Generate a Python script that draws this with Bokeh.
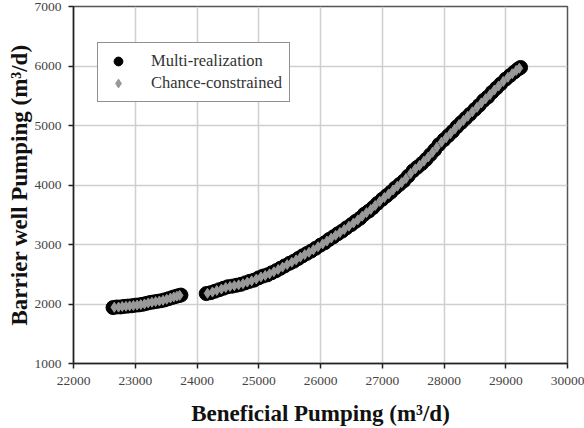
from bokeh.plotting import figure
from bokeh.models import FixedTicker, Legend, LegendItem, ColumnDataSource
from bokeh.embed import file_html
from bokeh.resources import INLINE

# Multi-realization (black circles)
multi_x = [22640, 22700, 22760, 22820, 22880, 22940, 23000, 23060, 23120, 23180,
           23240, 23300, 23360, 23420, 23480, 23540, 23600, 23650, 23700, 23740,
           24150, 24220, 24290, 24360, 24430, 24500, 24570, 24640, 24710, 24780,
           24850, 24920, 25000, 25070, 25140, 25210, 25280, 25350, 25420, 25500,
           25570, 25640, 25710, 25780, 25850, 25920, 26000, 26070, 26140, 26210,
           26280, 26350, 26420, 26500, 26570, 26640, 26710, 26780, 26850, 26920,
           27000, 27070, 27140, 27210, 27280, 27350, 27420, 27500, 27570, 27640,
           27710, 27780, 27850, 27920, 28000, 28070, 28140, 28210, 28280, 28350,
           28420, 28500, 28570, 28640, 28710, 28780, 28850, 28920, 29000, 29070,
           29140, 29200, 29240]
multi_y = [1940, 1950, 1950, 1960, 1965, 1970, 1980, 1985, 1995, 2010,
           2025, 2035, 2045, 2055, 2070, 2090, 2110, 2125, 2140, 2150,
           2175, 2190, 2215, 2240, 2265, 2290, 2300, 2315, 2330, 2355,
           2380, 2400, 2440, 2470, 2490, 2525, 2560, 2600, 2640, 2685,
           2720, 2765, 2810, 2850, 2890, 2935, 2990, 3030, 3085, 3130,
           3180, 3225, 3280, 3335, 3390, 3440, 3510, 3560, 3620, 3690,
           3760, 3820, 3880, 3950, 4010, 4070, 4150, 4240, 4300, 4360,
           4430, 4510, 4590, 4680, 4760, 4830, 4900, 4980, 5050, 5120,
           5190, 5270, 5340, 5420, 5480, 5560, 5630, 5700, 5780, 5840,
           5900, 5950, 5975]

# Chance-constrained (gray diamonds)
cc_x = [22660, 22730, 22790, 22850, 22910, 22970, 23030, 23090, 23150, 23210,
        23270, 23330, 23390, 23450, 23510, 23570, 23625, 23675, 23720,
        24170, 24250, 24320, 24395, 24465, 24535, 24605, 24675, 24745, 24815,
        24885, 24960, 25035, 25105, 25175, 25245, 25315, 25385, 25460, 25535,
        25605, 25675, 25745, 25815, 25885, 25960, 26035, 26105, 26175, 26245,
        26315, 26385, 26460, 26535, 26605, 26675, 26745, 26815, 26885, 26960,
        27035, 27105, 27175, 27245, 27315, 27385, 27460, 27535, 27605, 27675,
        27745, 27815, 27885, 27960, 28035, 28105, 28175, 28245, 28315, 28385,
        28460, 28535, 28605, 28675, 28745, 28815, 28885, 28960, 29035, 29105,
        29170, 29220]
cc_y = [1945, 1948, 1958, 1962, 1968, 1975, 1982, 1990, 2002, 2018,
        2030, 2040, 2050, 2062, 2080, 2100, 2118, 2132, 2145,
        2180, 2202, 2228, 2252, 2278, 2295, 2308, 2322, 2342, 2368,
        2390, 2420, 2455, 2480, 2508, 2542, 2580, 2620, 2662, 2702,
        2742, 2788, 2830, 2870, 2912, 2962, 3010, 3058, 3108, 3155,
        3202, 3252, 3308, 3362, 3415, 3475, 3535, 3590, 3655, 3725,
        3790, 3850, 3915, 3980, 4040, 4110, 4195, 4270, 4330, 4400,
        4470, 4550, 4635, 4720, 4795, 4865, 4940, 5015, 5085, 5155,
        5230, 5305, 5380, 5450, 5520, 5595, 5665, 5740, 5810, 5870,
        5925, 5962]

x_ticks = [22000, 23000, 24000, 25000, 26000, 27000, 28000, 29000, 30000]
y_ticks = [1000, 2000, 3000, 4000, 5000, 6000, 7000]

SERIF = "Liberation Serif"

p = figure(width=584, height=428, output_backend="svg", toolbar_location=None,
           x_range=(22000, 30000), y_range=(1000, 7000),
           min_border_left=73, min_border_right=17, min_border_top=6, min_border_bottom=65)
p.background_fill_color = "white"
p.border_fill_color = "white"
p.outline_line_color = "#555555"
p.outline_line_width = 1.5

for ax, ticks in ((p.xaxis[0], x_ticks), (p.yaxis[0], y_ticks)):
    ax.ticker = FixedTicker(ticks=ticks)
    ax.minor_tick_line_color = None
    ax.major_tick_in = 0
    ax.major_tick_out = 5
    ax.axis_line_color = "#222222"
    ax.axis_line_width = 1.5
    ax.major_tick_line_color = "#222222"
    ax.major_tick_line_width = 1.5
    ax.major_label_text_font = SERIF
    ax.major_label_text_font_size = "13.5px"
    ax.major_label_text_color = "#444444"
    ax.axis_label_text_font = SERIF
    ax.axis_label_text_font_style = "bold"
    ax.axis_label_text_font_size = "23px"
    ax.axis_label_text_color = "#111111"

p.xaxis.major_label_standoff = 8
p.yaxis.major_label_standoff = 7
p.xaxis.axis_label = "Beneficial Pumping (m³/d)"
p.yaxis.axis_label = "Barrier well Pumping (m³/d)"
p.xaxis.axis_label_standoff = 13
p.yaxis.axis_label_standoff = 0

p.grid.grid_line_color = "#cfcfcf"
p.grid.grid_line_width = 1.5
p.xgrid.ticker = FixedTicker(ticks=x_ticks)
p.ygrid.ticker = FixedTicker(ticks=y_ticks)

src_m = ColumnDataSource(dict(x=multi_x, y=multi_y))
src_c = ColumnDataSource(dict(x=cc_x, y=cc_y))
r_m = p.scatter("x", "y", source=src_m, marker="circle", size=14,
                fill_color="black", line_color="black")
r_c = p.scatter("x", "y", source=src_c, marker="diamond", size=10,
                fill_color="#999999", line_color="#999999")

legend = Legend(items=[LegendItem(label="Multi-realization", renderers=[r_m]),
                       LegendItem(label="Chance-constrained", renderers=[r_c])],
                location=(24, 261))
legend.margin = 0
legend.padding = 7
legend.spacing = 0
legend.glyph_width = 26
legend.glyph_height = 22
legend.label_standoff = 20
legend.label_height = 22
legend.label_text_font = SERIF
legend.label_text_font_size = "16.5px"
legend.label_text_color = "#333333"
legend.border_line_color = "#222222"
legend.border_line_width = 1.5
legend.background_fill_color = "white"
legend.background_fill_alpha = 1.0
p.add_layout(legend, "center")

open("out.html", "w").write(file_html(p, INLINE))
